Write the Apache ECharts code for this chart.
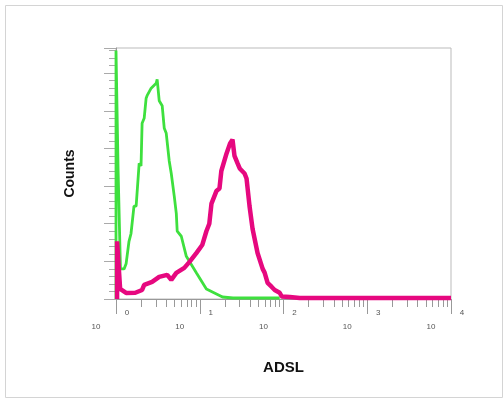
<!DOCTYPE html>
<html><head><meta charset="utf-8">
<script src="https://cdn.jsdelivr.net/npm/echarts@6/dist/echarts.min.js"></script>
<style>html,body{margin:0;padding:0;background:#fff}#c{width:504px;height:398px}</style>
</head><body><div id="c"></div>
<script>
// Decade exponents of the log x axis (10^0 .. 10^4)
const decadeExponents = [0, 1, 2, 3, 4];
// Minor tick values (2..9 in each decade)
const minorTickValues = [2,3,4,5,6,7,8,9,20,30,40,50,60,70,80,90,200,300,400,500,600,700,800,900,2000,3000,4000,5000,6000,7000,8000,9000];

// Green histogram (control): intensity, counts
const greenX = [1, 1, 1.05, 1.06, 1.11, 1.13, 1.25, 1.32, 1.43, 1.51, 1.64, 1.74, 1.89, 1.99, 2.05, 2.17, 2.29, 2.35, 2.63, 3.02, 3.1, 3.28, 3.56, 3.77, 3.98, 4.32, 4.57, 4.96, 5.25, 5.38, 6.02, 6.91, 9.1, 12, 18.7, 25, 90];
const greenY = [0, 99, 99, 51, 51, 12, 12, 14, 23, 26, 37, 37, 54, 53, 70, 72, 80, 81, 84, 86, 87.5, 79, 77, 68, 66, 55, 50, 41, 34, 27, 25, 17, 10.5, 4, 0.8, 0.4, 0.4];

// Pink histogram (ADSL): intensity, counts
const pinkX = [1.03, 1.03, 1.08, 1.12, 1.32, 1.7, 2.05, 2.17, 2.7, 3.28, 4.09, 4.57, 5.25, 6.54, 7.5, 9.1, 10.7, 12, 13, 13.8, 15.8, 17.2, 18.1, 20.9, 23, 24.6, 26, 28.3, 30, 34.3, 36.2, 39.3, 42.7, 49, 56.4, 59.5, 64.6, 72.4, 78.5, 90, 95.3, 119, 156, 10000];
const pinkY = [0, 23, 23, 4, 2.4, 2.5, 3.6, 5.6, 6.8, 8.8, 9.6, 7.6, 10.4, 12.4, 14.7, 18.3, 21.5, 27, 30, 38, 43, 44, 51, 58, 62, 63.5, 57, 54, 52, 50, 48, 37, 28, 18.3, 12, 10.5, 6.4, 4.8, 3.6, 2.5, 1, 0.8, 0.4, 0.4];

const toLog = (xs, ys) => xs.map((x, i) => [Math.log10(x), ys[i]]);

const chart = echarts.init(document.getElementById('c'), null, {renderer: 'canvas'});
const font = '"Liberation Sans", Arial, sans-serif';
chart.setOption({
  animation: false,
  backgroundColor: '#fff',
  graphic: [{
    type: 'rect', left: 3, top: 3, shape: {width: 497, height: 392},
    style: {fill: 'none', stroke: '#d4d4d4', lineWidth: 1}, silent: true
  }],
  grid: {left: 116, right: 53, top: 48, bottom: 99, show: true, borderColor: '#bbb', borderWidth: 1},
  xAxis: [{
    type: 'value', min: 0, max: 4, interval: 1, position: 'bottom',
    name: 'ADSL', nameLocation: 'middle', nameGap: 61,
    nameTextStyle: {fontFamily: font, fontWeight: 'bold', fontSize: 15, color: '#111'},
    axisLine: {show: true, lineStyle: {color: '#999', width: 1}},
    axisTick: {show: true, length: 15, lineStyle: {color: '#999'}},
    splitLine: {show: false},
    axisLabel: {
      margin: 7,
      formatter: v => '{e|' + decadeExponents[Math.round(v)] + '}\n{b|10}',
      rich: {
        e: {fontFamily: font, fontSize: 8, color: '#555', lineHeight: 14, padding: [0, 0, 0, 22]},
        b: {fontFamily: font, fontSize: 8, color: '#555', lineHeight: 14, padding: [0, 40, 0, 0]}
      }
    }
  }, {
    type: 'value', min: 0, max: 4, position: 'bottom', offset: 0,
    axisLine: {show: false},
    axisLabel: {show: false},
    splitLine: {show: false},
    axisTick: {show: true, length: 8, lineStyle: {color: '#999'}, customValues: minorTickValues.map(v => Math.log10(v))}
  }],
  yAxis: {
    type: 'value', min: 0, max: 100, interval: 15,
    name: 'Counts', nameLocation: 'middle', nameGap: 39,
    nameTextStyle: {fontFamily: font, fontWeight: 'bold', fontSize: 14, color: '#111'},
    axisLine: {show: true, lineStyle: {color: '#999'}},
    axisTick: {show: true, length: 12, lineStyle: {color: '#aaa'}},
    minorTick: {show: true, splitNumber: 5, length: 7, lineStyle: {color: '#aaa'}},
    axisLabel: {show: false},
    splitLine: {show: false}
  },
  series: [{
    type: 'line', name: 'control', data: toLog(greenX, greenY), symbol: 'none',
    lineStyle: {color: '#3ee03e', width: 2.8}, z: 3
  }, {
    type: 'line', name: 'ADSL', data: toLog(pinkX, pinkY), symbol: 'none',
    lineStyle: {color: '#e6087f', width: 4.5}, z: 4
  }]
});
</script>
</body></html>
